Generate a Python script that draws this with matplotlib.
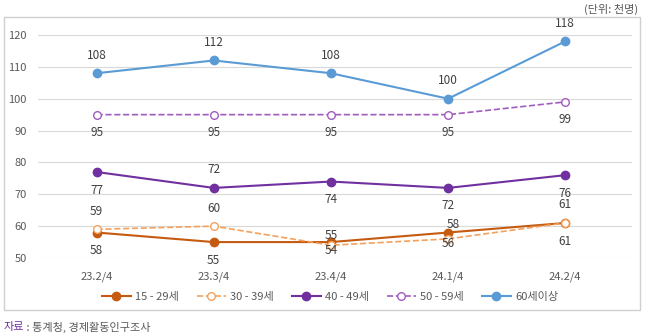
import matplotlib
matplotlib.use("Agg")
import matplotlib.pyplot as plt
from matplotlib.patches import Rectangle

plt.rcParams["font.family"] = ["Noto Sans CJK KR", "DejaVu Sans"]

quarters = ["23.2/4", "23.3/4", "23.4/4", "24.1/4", "24.2/4"]
age_15_29 = [58, 55, 55, 58, 61]
age_30_39 = [59, 60, 54, 56, 61]
age_40_49 = [77, 72, 74, 72, 76]
age_50_59 = [95, 95, 95, 95, 99]
age_60_plus = [108, 112, 108, 100, 118]

# label offsets (points, from marker centre): positive = above
off_15_29 = [(0, -13), (0, -13), (0, 5), (4, 6), (0, 13)]
off_30_39 = [(0, 13), (0, 13), (0, -4), (0, -3), (0, -13)]
off_40_49 = [(0, -13), (0, 13), (0, -13), (0, -13), (0, -13)]
off_50_59 = [(0, -13), (0, -13), (0, -13), (0, -13), (0, -13)]
off_60_plus = [(0, 13), (0, 13), (0, 13), (0, 13), (0, 13)]

GRAY = "#595959"
series = [
    ("15 - 29세", age_15_29, off_15_29, "#c55a11", "-", True),
    ("30 - 39세", age_30_39, off_30_39, "#f4a15d", "--", False),
    ("40 - 49세", age_40_49, off_40_49, "#7030a0", "-", True),
    ("50 - 59세", age_50_59, off_50_59, "#a05cc0", "--", False),
    ("60세이상", age_60_plus, off_60_plus, "#5b9bd5", "-", True),
]

fig = plt.figure(figsize=(6.48, 3.36), dpi=100)
fig.patches.append(Rectangle((4 / 648, 1 - 310 / 336), 636 / 648, 293 / 336,
                             transform=fig.transFigure, fill=False,
                             edgecolor="#d0d0d0", linewidth=1.0))
ax = fig.add_axes([38 / 648, 1 - 258 / 336, 594 / 648, 223 / 336])

x = list(range(len(quarters)))
for name, vals, offs, color, ls, filled in series:
    ax.plot(x, vals, color=color, linestyle=ls, linewidth=1.5 if filled else 1.2,
            marker="o", markersize=6 if filled else 5.5,
            markerfacecolor=color if filled else "white",
            markeredgecolor=color, markeredgewidth=1.0,
            label=name, clip_on=False, zorder=3)
    for xi, v, (dx, dy) in zip(x, vals, offs):
        ax.annotate(str(v), (xi, v), xytext=(dx, dy), textcoords="offset points",
                    ha="center", va="center", fontsize=8.5, color="#404040",
                    zorder=4)

ax.set_ylim(50, 120)
ax.set_xlim(-0.5, 4.57)
ax.set_yticks(range(50, 121, 10))
ax.set_xticks(x)
ax.set_xticklabels(quarters)
ax.grid(axis="y", color="#d9d9d9", linewidth=0.8)
ax.set_axisbelow(True)
for s in ax.spines.values():
    s.set_visible(False)
ax.tick_params(length=0, labelsize=8, colors=GRAY)
ax.tick_params(axis="x", pad=10)
ax.tick_params(axis="y", pad=8)

fig.legend(loc="center", bbox_to_anchor=(330 / 648, 1 - 297 / 336), ncol=5,
           frameon=False, fontsize=8, labelcolor=GRAY, handlelength=2.6,
           columnspacing=1.6, handletextpad=0.4)

fig.text(638 / 648, 1 - 9 / 336, "(단위: 천명)", ha="right", va="center",
         fontsize=8, color=GRAY)
fig.text(4 / 648, 1 - 327 / 336, "자료", ha="left", va="center",
         fontsize=8, color="#7030a0")
fig.text(24 / 648, 1 - 327 / 336, " : 통계청, 경제활동인구조사", ha="left",
         va="center", fontsize=8, color=GRAY)

fig.savefig("out.png", dpi=100)
